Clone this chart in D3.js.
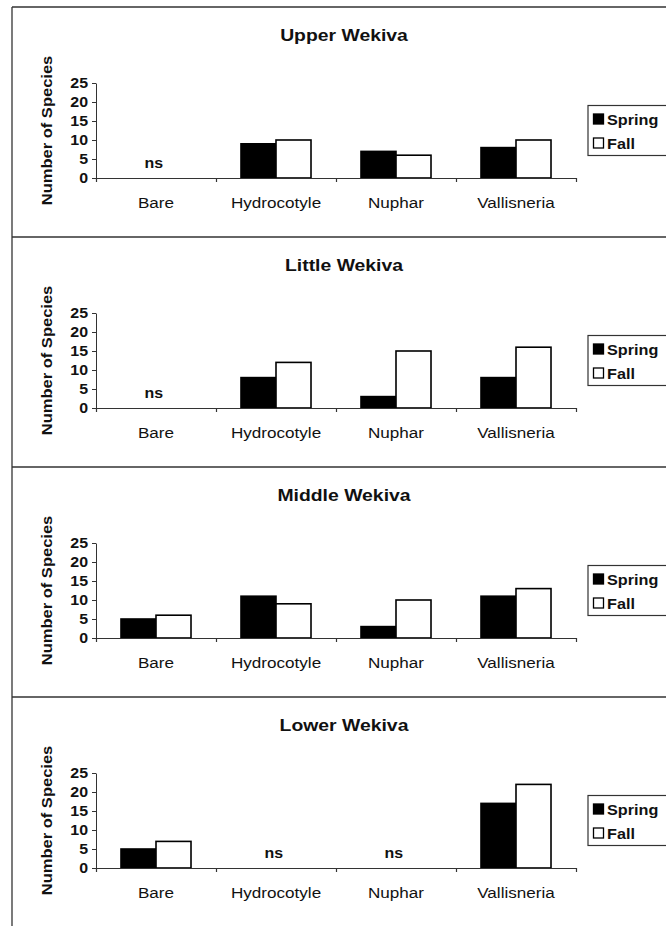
<!DOCTYPE html>
<html>
<head>
<meta charset="utf-8">
<script src="https://cdn.jsdelivr.net/npm/d3@7"></script>
<style>
  html, body { margin: 0; padding: 0; background: #fff; }
  svg { display: block; }
  text { font-family: "Liberation Sans", Arial, sans-serif; fill: #111; }
</style>
</head>
<body>
<svg id="chart" width="666" height="926"></svg>
<script>
// ---- data ----
const panelTitles = ["Upper Wekiva", "Little Wekiva", "Middle Wekiva", "Lower Wekiva"];
const categories = ["Bare", "Hydrocotyle", "Nuphar", "Vallisneria"];
const seriesNames = ["Spring", "Fall"];
// null = not sampled ("ns")
const springValues = [
  [null, 9, 7, 8],
  [null, 8, 3, 8],
  [5, 11, 3, 11],
  [5, null, null, 17]
];
const fallValues = [
  [null, 10, 6, 10],
  [null, 12, 15, 16],
  [6, 9, 10, 13],
  [7, null, null, 22]
];
const yTicks = [0, 5, 10, 15, 20, 25];
const yLabel = "Number of Species";
const nsLabel = "ns";

// ---- layout ----
const svg = d3.select("#chart");
const panelStep = 230, firstTop = 7;
const frameLeft = 12;
const plotLeft = 96, plotRight = 576;
const plotTop = 76, plotBottom = 171; // relative to panel top
const stretch = 1.14;
const fills = { Spring: "#000", Fall: "#fff" };

const x0 = d3.scaleBand().domain(categories).range([plotLeft, plotRight]).paddingInner(0).paddingOuter(0);
const x1 = d3.scaleBand().domain(seriesNames).range([0, x0.bandwidth()]).paddingInner(0).paddingOuter(0.714);
const y = d3.scaleLinear().domain([0, 25]).range([plotBottom, plotTop]);
const xb = d3.scaleLinear().domain([0, categories.length]).range([plotLeft, plotRight]);

// frame
svg.append("line").attr("x1", frameLeft).attr("x2", frameLeft).attr("y1", firstTop).attr("y2", 926)
  .attr("stroke", "#333").attr("stroke-width", 1.3);

panelTitles.forEach((title, p) => {
  const top = firstTop + p * panelStep;
  const g = svg.append("g").attr("transform", `translate(0,${top})`);

  g.append("line").attr("x1", frameLeft).attr("x2", 666).attr("y1", 0).attr("y2", 0)
    .attr("stroke", "#333").attr("stroke-width", 1.3);

  // title
  g.append("text").attr("transform", `translate(344,34) scale(${stretch},1)`)
    .attr("text-anchor", "middle").attr("font-size", 17).attr("font-weight", "bold").text(title);

  // y label
  g.append("text").attr("transform", `translate(52,${(plotTop + plotBottom) / 2}) rotate(-90) scale(${stretch},1)`)
    .attr("text-anchor", "middle").attr("font-size", 14.5).attr("font-weight", "bold").text(yLabel);

  // bars
  const rows = categories.map((c, i) => ({ cat: c, vals: [springValues[p][i], fallValues[p][i]] }));
  const cg = g.selectAll("g.cat").data(rows).join("g").attr("class", "cat")
    .attr("transform", d => `translate(${x0(d.cat)},0)`);
  cg.selectAll("rect").data(d => d.vals.map((v, k) => ({ s: seriesNames[k], v })).filter(e => e.v !== null))
    .join("rect")
    .attr("x", d => x1(d.s)).attr("width", x1.bandwidth())
    .attr("y", d => y(d.v)).attr("height", d => y(0) - y(d.v))
    .attr("fill", d => fills[d.s]).attr("stroke", "#000").attr("stroke-width", 1.6);
  cg.filter(d => d.vals.every(v => v === null)).append("text")
    .attr("x", x0.bandwidth() / 2 - 2).attr("y", plotBottom - 10)
    .attr("text-anchor", "middle").attr("font-size", 14).attr("font-weight", "bold")
    .attr("transform", `translate(${-(stretch - 1) * (x0.bandwidth() / 2)},0) scale(${stretch},1)`)
    .text(nsLabel);

  // y axis
  const ya = g.append("g").attr("transform", `translate(${plotLeft},0)`)
    .call(d3.axisLeft(y).tickValues(yTicks).tickSize(4).tickSizeOuter(0).tickPadding(3));
  ya.selectAll("path, line").attr("stroke", "#333").attr("stroke-width", 1);
  ya.selectAll("text").attr("font-size", 14).attr("font-weight", "bold")
    .attr("font-family", '"Liberation Sans", Arial, sans-serif').attr("fill", "#111")
    .attr("transform", `scale(${stretch},1)`);

  // x axis: boundary ticks
  const xa = g.append("g").attr("transform", `translate(0,${plotBottom})`)
    .call(d3.axisBottom(xb).tickValues(d3.range(categories.length + 1)).tickSize(4).tickSizeOuter(0).tickFormat(""));
  xa.selectAll("path, line").attr("stroke", "#333").attr("stroke-width", 1.2);
  // x axis: category labels
  const xl = g.append("g").attr("transform", `translate(0,${plotBottom})`)
    .call(d3.axisBottom(x0).tickSize(0).tickPadding(19));
  xl.select(".domain").remove();
  xl.selectAll("text").attr("font-size", 15)
    .attr("font-family", '"Liberation Sans", Arial, sans-serif').attr("fill", "#111")
    .attr("transform", `scale(${stretch},1)`);

  // legend
  const lgTop = (plotTop + plotBottom) / 2 - 25;
  const lg = g.append("g").attr("transform", `translate(588,${lgTop})`);
  lg.append("rect").attr("x", 0).attr("y", 0).attr("width", 82).attr("height", 50)
    .attr("fill", "#fff").attr("stroke", "#333").attr("stroke-width", 1.2);
  seriesNames.forEach((s, k) => {
    const cy = 14 + k * 24;
    lg.append("rect").attr("x", 5.5).attr("y", cy - 5.5).attr("width", 10).attr("height", 10)
      .attr("fill", fills[s]).attr("stroke", "#000").attr("stroke-width", 1.3);
    lg.append("text").attr("transform", `translate(19,${cy + 5}) scale(1.08,1)`)
      .attr("font-size", 15).attr("font-weight", "bold").text(s);
  });
});
</script>
</body>
</html>
